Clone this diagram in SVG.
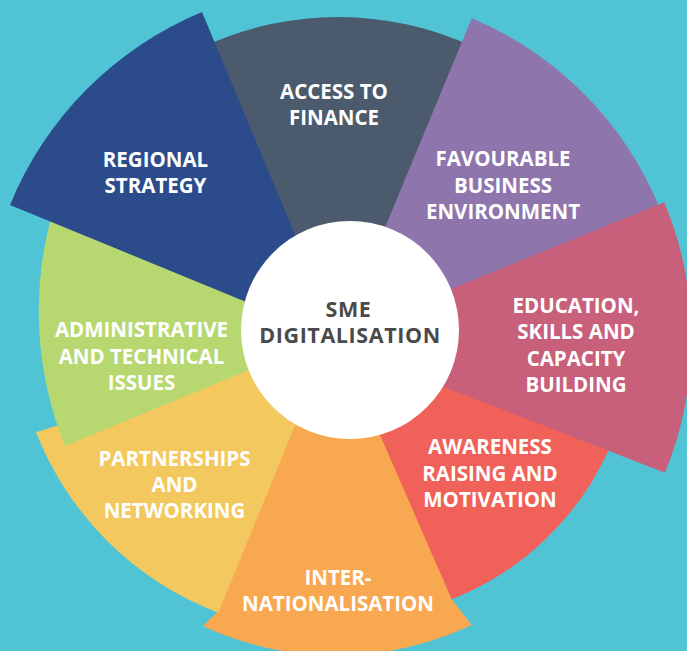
<svg xmlns="http://www.w3.org/2000/svg" width="687" height="651" viewBox="0 0 687 651">
<style>
.lbl{font-family:"Open Sans","DejaVu Sans",sans-serif;font-weight:700;font-size:20.5px;fill:#ffffff;text-anchor:middle}
.ctr{font-family:"Open Sans","DejaVu Sans",sans-serif;font-weight:700;font-size:21.5px;letter-spacing:0.6px;fill:#4a4a4a;text-anchor:middle}
</style>
<rect x="0" y="0" width="687" height="651" fill="#50c4d5"/>
<g id="internationalisation">
<path d="M330,380 L296,410 L217,612.5 L202.7,626 A317,317 0 0 0 471.7,625 L451.7,599.3 L386,432 L370,390 Z" fill="#f8a850"/>
<text class="lbl" x="338" y="585">INTER-</text>
<text class="lbl" x="338" y="611">NATIONALISATION</text>
</g>
<g id="access-to-finance">
<path d="M338,338 L202.3,47.1 A321,321 0 0 1 473.7,47.1 Z" fill="#4c5a6e"/>
<text class="lbl" x="334" y="99">ACCESS TO</text>
<text class="lbl" x="334" y="125">FINANCE</text>
</g>
<g id="awareness">
<path d="M356,380 L451.7,599.3 A288,288 0 0 0 608.3,450.7 L620,420 L440,330 Z" fill="#f06259"/>
<text class="lbl" x="490" y="454">AWARENESS</text>
<text class="lbl" x="490" y="480.7">RAISING AND</text>
<text class="lbl" x="490" y="506.7">MOTIVATION</text>
</g>
<g id="partnerships">
<path d="M330,340 L218.3,612.7 A316.5,316.5 0 0 1 36,432.3 Z" fill="#f3c85f"/>
<text class="lbl" x="174.5" y="465.7">PARTNERSHIPS</text>
<text class="lbl" x="174.5" y="491.7">AND</text>
<text class="lbl" x="174.5" y="517.7">NETWORKING</text>
</g>
<g id="administrative">
<path d="M338,333 L65,446 A360,360 0 0 1 50,221.7 L70,180 Z" fill="#b7d771"/>
<text class="lbl" x="141.5" y="337.3">ADMINISTRATIVE</text>
<text class="lbl" x="141.5" y="364">AND TECHNICAL</text>
<text class="lbl" x="141.5" y="390">ISSUES</text>
</g>
<g id="regional-strategy">
<path d="M339,340 L10,205 A354,354 0 0 1 202,12 Z" fill="#2c4b8b"/>
<text class="lbl" x="155.5" y="166.7">REGIONAL</text>
<text class="lbl" x="155.5" y="192.7">STRATEGY</text>
</g>
<g id="favourable">
<path d="M355,300 L471.7,18.3 A347,347 0 0 1 668,231 L450,330 Z" fill="#8e75ac"/>
<text class="lbl" x="503" y="166">FAVOURABLE</text>
<text class="lbl" x="503" y="192.7">BUSINESS</text>
<text class="lbl" x="503" y="219">ENVIRONMENT</text>
</g>
<g id="education">
<path d="M324,340.5 L664.3,202.3 A353.5,353.5 0 0 1 665,472.7 Z" fill="#c85f7b"/>
<text class="lbl" x="576" y="313.3">EDUCATION,</text>
<text class="lbl" x="576" y="339">SKILLS AND</text>
<text class="lbl" x="576" y="365.7">CAPACITY</text>
<text class="lbl" x="576" y="392.3">BUILDING</text>
</g>
<g id="sme-digitalisation">
<circle cx="350" cy="330" r="109" fill="#ffffff"/>
<text class="ctr" x="348.5" y="316.7">SME</text>
<text class="ctr" x="350" y="342.7">DIGITALISATION</text>
</g>
</svg>
